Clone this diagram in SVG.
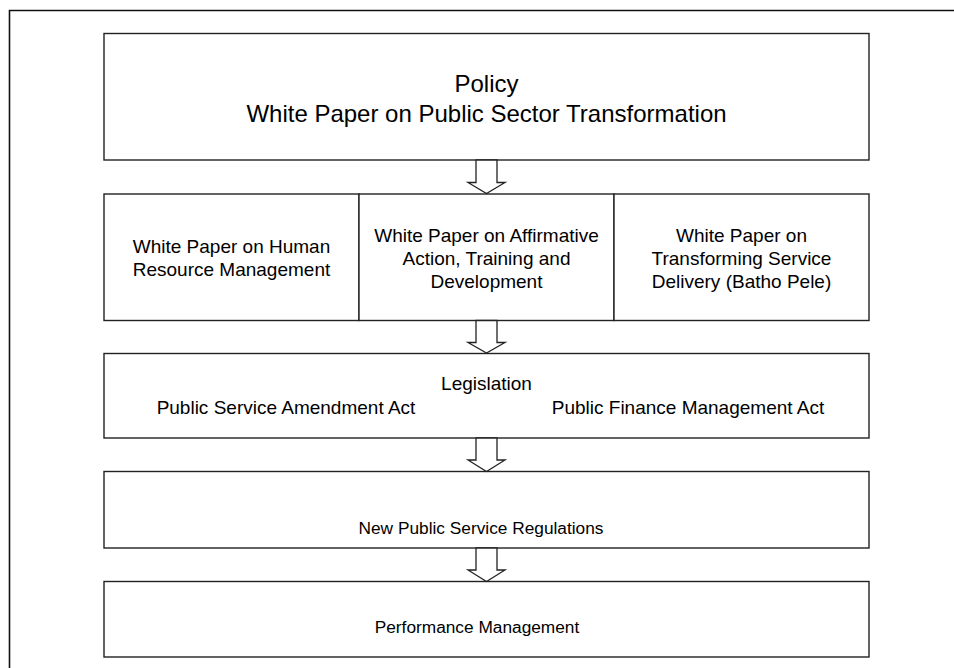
<svg xmlns="http://www.w3.org/2000/svg" width="954" height="668" viewBox="0 0 954 668">
<style>
.box{fill:#fff;stroke:#222;stroke-width:1.4}
.frame{fill:none;stroke:#111;stroke-width:1.6}
.arr{fill:#fff;stroke:#222;stroke-width:1.3;stroke-linejoin:miter}
text{font-family:"Liberation Sans",Arial,sans-serif;fill:#000;text-anchor:middle}
.t24{font-size:24px}
.t19{font-size:19px}
.t17{font-size:17.3px}
</style>
<rect width="954" height="668" fill="#fff"/>
<path class="frame" d="M9.5,668 V10.5 H954"/>
<g id="policy">
<rect class="box" x="104" y="33.5" width="765" height="126.5"/>
<text class="t24" x="486.5" y="91.5">Policy</text>
<text class="t24" x="486.5" y="121.5">White Paper on Public Sector Transformation</text>
</g>
<g id="wp-hrm">
<rect class="box" x="104" y="194" width="255" height="126.5"/>
<text class="t19" x="231.5" y="252.5">White Paper on Human</text>
<text class="t19" x="231.5" y="275.5">Resource Management</text>
</g>
<g id="wp-aa">
<rect class="box" x="359" y="194" width="255" height="126.5"/>
<text class="t19" x="486.5" y="241.5">White Paper on Affirmative</text>
<text class="t19" x="486.5" y="264.5">Action, Training and</text>
<text class="t19" x="486.5" y="287.5">Development</text>
</g>
<g id="wp-tsd">
<rect class="box" x="614" y="194" width="255" height="126.5"/>
<text class="t19" x="741.5" y="241.5">White Paper on</text>
<text class="t19" x="741.5" y="264.5">Transforming Service</text>
<text class="t19" x="741.5" y="287.5">Delivery (Batho Pele)</text>
</g>
<g id="legislation">
<rect class="box" x="104" y="353.5" width="765" height="84.5"/>
<text class="t19" x="486.5" y="390">Legislation</text>
<text class="t19" x="286" y="414">Public Service Amendment Act</text>
<text class="t19" x="688" y="414">Public Finance Management Act</text>
</g>
<g id="regulations">
<rect class="box" x="104" y="471.5" width="765" height="76.5"/>
<text class="t17" x="481" y="534">New Public Service Regulations</text>
</g>
<g id="performance">
<rect class="box" x="104" y="581.5" width="765" height="75.5"/>
<text class="t17" x="477" y="633">Performance Management</text>
</g>
<g id="connectors">
<polygon class="arr" points="476,160 497,160 497,182.5 505,182.5 486.5,193.5 468,182.5 476,182.5"/>
<polygon class="arr" points="476,320.5 497,320.5 497,342.5 505,342.5 486.5,353 468,342.5 476,342.5"/>
<polygon class="arr" points="476,438 497,438 497,460 505,460 486.5,471.5 468,460 476,460"/>
<polygon class="arr" points="476,548 497,548 497,570 505,570 486.5,581.5 468,570 476,570"/>
</g>
</svg>
